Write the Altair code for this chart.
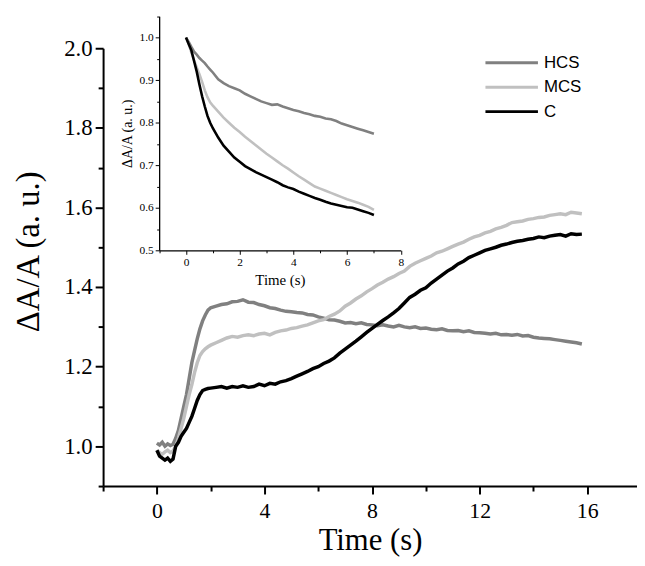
import altair as alt
import pandas as pd

SERIF = "Liberation Serif"
SANS = "Liberation Sans"

SERIES = ["HCS", "MCS", "C"]
COLORS = ["#808080", "#c0c0c0", "#000000"]

# ---- main panel ----
main_t = [
    0.0, 0.1, 0.2, 0.3, 0.4, 0.5, 0.6, 0.7, 0.8, 0.9,
    1.0, 1.1, 1.2, 1.3, 1.4, 1.5, 1.6, 1.7, 1.8, 1.9,
    2.0, 2.2, 2.4, 2.6, 2.8, 3.0, 3.2, 3.4, 3.6, 3.8,
    4.0, 4.2, 4.4, 4.6, 4.8, 5.0, 5.2, 5.4, 5.6, 5.8,
    6.0, 6.2, 6.4, 6.6, 6.8, 7.0, 7.2, 7.4, 7.6, 7.8,
    8.0, 8.2, 8.4, 8.6, 8.8, 9.0, 9.2, 9.4, 9.6, 9.8,
    10.0, 10.2, 10.4, 10.6, 10.8, 11.0, 11.2, 11.4, 11.6, 11.8,
    12.0, 12.2, 12.4, 12.6, 12.8, 13.0, 13.2, 13.4, 13.6, 13.8,
    14.0, 14.2, 14.4, 14.6, 14.8, 15.0, 15.2, 15.4, 15.6, 15.8,
]
main_hcs = [
    1.008, 1.003, 1.010, 1.000, 1.006, 1.002, 1.005, 1.020, 1.040, 1.070,
    1.100, 1.130, 1.170, 1.210, 1.240, 1.270, 1.295, 1.315, 1.330, 1.342,
    1.348, 1.352, 1.356, 1.358, 1.363, 1.364, 1.368, 1.362, 1.361, 1.356,
    1.353, 1.348, 1.346, 1.342, 1.339, 1.338, 1.336, 1.335, 1.331, 1.330,
    1.325, 1.322, 1.318, 1.317, 1.314, 1.310, 1.311, 1.308, 1.310, 1.306,
    1.305, 1.303, 1.305, 1.302, 1.300, 1.304, 1.300, 1.298, 1.300, 1.296,
    1.297, 1.294, 1.293, 1.295, 1.291, 1.290, 1.291, 1.288, 1.290, 1.286,
    1.285, 1.284, 1.282, 1.284, 1.280, 1.281, 1.279, 1.281, 1.277, 1.278,
    1.274, 1.272, 1.271, 1.270, 1.268, 1.266, 1.264, 1.262, 1.260, 1.257,
]
main_mcs = [
    0.990, 0.984, 0.980, 0.986, 0.990, 0.984, 0.988, 1.000, 1.020, 1.045,
    1.070, 1.100, 1.130, 1.155, 1.185, 1.210, 1.228, 1.238, 1.245, 1.250,
    1.254, 1.260, 1.266, 1.272, 1.276, 1.274, 1.278, 1.280, 1.278, 1.282,
    1.284, 1.280, 1.286, 1.290, 1.292, 1.296, 1.298, 1.302, 1.305, 1.310,
    1.315, 1.318, 1.326, 1.332, 1.340, 1.352, 1.360, 1.370, 1.378, 1.388,
    1.396, 1.405, 1.412, 1.420, 1.426, 1.434, 1.440, 1.452, 1.460, 1.466,
    1.472, 1.478, 1.486, 1.490, 1.496, 1.502, 1.508, 1.513, 1.520, 1.526,
    1.530, 1.536, 1.540, 1.546, 1.550, 1.555, 1.562, 1.564, 1.566, 1.570,
    1.572, 1.575, 1.576, 1.580, 1.582, 1.584, 1.582, 1.588, 1.586, 1.584,
]
main_c = [
    0.990, 0.975, 0.970, 0.965, 0.970, 0.962, 0.968, 1.000, 1.010, 1.025,
    1.035, 1.045, 1.060, 1.075, 1.095, 1.115, 1.130, 1.140, 1.143, 1.145,
    1.146, 1.148, 1.150, 1.146, 1.150, 1.148, 1.152, 1.148, 1.150, 1.156,
    1.152, 1.158, 1.156, 1.162, 1.165, 1.170, 1.176, 1.182, 1.188, 1.195,
    1.200, 1.208, 1.214, 1.222, 1.234, 1.244, 1.254, 1.264, 1.275, 1.286,
    1.296, 1.306, 1.316, 1.325, 1.335, 1.346, 1.360, 1.374, 1.382, 1.392,
    1.398, 1.410, 1.420, 1.430, 1.440, 1.448, 1.458, 1.465, 1.474, 1.480,
    1.486, 1.492, 1.496, 1.500, 1.505, 1.508, 1.512, 1.515, 1.517, 1.520,
    1.522, 1.526, 1.524, 1.528, 1.530, 1.532, 1.528, 1.534, 1.532, 1.533,
]

# ---- inset panel ----
inset_t = [
    0.0, 0.1, 0.2, 0.3, 0.4, 0.5, 0.6, 0.7, 0.8, 0.9,
    1.0, 1.2, 1.4, 1.6, 1.8, 2.0, 2.2, 2.4, 2.6, 2.8,
    3.0, 3.2, 3.4, 3.6, 3.8, 4.0, 4.2, 4.4, 4.6, 4.8,
    5.0, 5.2, 5.4, 5.6, 5.8, 6.0, 6.2, 6.4, 6.6, 6.8,
    7.0,
]
inset_hcs = [
    1.000, 0.990, 0.978, 0.967, 0.960, 0.952, 0.946, 0.940, 0.932, 0.925,
    0.918, 0.902, 0.893, 0.886, 0.881, 0.876, 0.868, 0.862, 0.856, 0.850,
    0.846, 0.842, 0.843, 0.838, 0.834, 0.830, 0.827, 0.823, 0.820, 0.816,
    0.814, 0.810, 0.808, 0.804, 0.798, 0.794, 0.790, 0.786, 0.782, 0.778,
    0.774,
]
inset_mcs = [
    1.000, 0.985, 0.965, 0.947, 0.930, 0.914, 0.896, 0.876, 0.860, 0.848,
    0.840, 0.826, 0.812, 0.800, 0.788, 0.778, 0.767, 0.757, 0.747, 0.737,
    0.727, 0.718, 0.709, 0.700, 0.692, 0.683, 0.674, 0.666, 0.658, 0.650,
    0.645, 0.640, 0.635, 0.630, 0.625, 0.620, 0.616, 0.612, 0.607, 0.602,
    0.595,
]
inset_c = [
    1.000, 0.985, 0.970, 0.945, 0.920, 0.890, 0.862, 0.838, 0.816, 0.800,
    0.787, 0.765, 0.746, 0.732, 0.718, 0.708, 0.698, 0.691, 0.684, 0.678,
    0.672, 0.666, 0.660, 0.653, 0.648, 0.644, 0.638, 0.633, 0.628, 0.623,
    0.619, 0.614, 0.610, 0.607, 0.604, 0.601, 0.600, 0.596, 0.592, 0.588,
    0.583,
]

main_x_ticks = [-2, 0, 2, 4, 6, 8, 10, 12, 14, 16]
main_y_ticks = [0.9, 1.0, 1.1, 1.2, 1.3, 1.4, 1.5, 1.6, 1.7, 1.8, 1.9, 2.0]
inset_x_ticks = [-1, 0, 1, 2, 3, 4, 5, 6, 7, 8]
inset_y_ticks = [0.5, 0.55, 0.6, 0.65, 0.7, 0.75, 0.8, 0.85, 0.9, 0.95, 1.0, 1.05]


def long_frame(t, series_vals):
    rows = []
    for name, vals in zip(SERIES, series_vals):
        for tt, vv in zip(t, vals):
            rows.append({"series": name, "t": tt, "v": vv})
    return pd.DataFrame(rows)


main_df = long_frame(main_t, [main_hcs, main_mcs, main_c])
inset_df = long_frame(inset_t, [inset_hcs, inset_mcs, inset_c])
legend_df = pd.DataFrame({"series": SERIES})

W, H = 539, 442
PAD_TOP = 38
color = alt.Color("series:N", scale=alt.Scale(domain=SERIES, range=COLORS), legend=None)

common_axis = dict(
    grid=False, domainColor="black", tickColor="black", labelColor="black",
    titleColor="black", labelFont=SERIF, titleFont=SERIF, titleFontWeight="normal",
    labelOverlap=False, labelFlush=False,
)

main = alt.Chart(main_df).mark_line(strokeWidth=3.5).encode(
    x=alt.X("t:Q", scale=alt.Scale(domain=[-2, 17.85], nice=False, zero=False),
            axis=alt.Axis(
                orient="bottom", title="Time (s)", values=main_x_ticks, format="d",
                labelExpr="datum.value % 4 == 0 ? datum.label : ''",
                tickSize={"condition": {"test": "datum.value % 4 == 0", "value": 8}, "value": 5},
                tickWidth=2, domainWidth=2, labelFontSize=22, labelPadding=7,
                titleFontSize=31, titleY=64, titleBaseline="alphabetic",
                **common_axis)),
    y=alt.Y("v:Q", scale=alt.Scale(domain=[0.9, 2.0], nice=False, zero=False),
            axis=alt.Axis(
                orient="left", title="ΔA/A (a. u.)", values=main_y_ticks,
                labelExpr="round(datum.value*10) % 2 == 0 ? format(datum.value, '.1f') : ''",
                tickSize={"condition": {"test": "round(datum.value*10) % 2 == 0", "value": 8}, "value": 5},
                tickWidth=2, domainWidth=2, labelFontSize=23, labelPadding=3,
                titleFontSize=33, titleAngle=270, titleX=-65, titleY=205,
                titleBaseline="alphabetic", titleAlign="center",
                **common_axis)),
    color=color,
)

# inset placement in plot coordinates
IX0, IX1 = 56.6, 300.5
IY0, IY1 = 250 - 8 - PAD_TOP, 13.8 - 8 - PAD_TOP

inset = alt.Chart(inset_df).mark_line(strokeWidth=2.6).encode(
    x=alt.X("t:Q", scale=alt.Scale(domain=[-1, 8], range=[IX0, IX1], nice=False, zero=False),
            axis=alt.Axis(
                orient="bottom", offset=IY0 - H, title="Time (s)", values=inset_x_ticks, format="d",
                labelExpr="datum.value % 2 == 0 ? datum.label : ''",
                tickSize={"condition": {"test": "datum.value % 2 == 0", "value": 4}, "value": 2.5},
                tickWidth=1, domainWidth=1.3, labelFontSize=11.5, labelPadding=2,
                titleFontSize=15, titleY=35, titleBaseline="alphabetic",
                **common_axis)),
    y=alt.Y("v:Q", scale=alt.Scale(domain=[0.5, 1.05], range=[IY0, IY1], nice=False, zero=False),
            axis=alt.Axis(
                orient="left", offset=-IX0, title="ΔA/A (a. u.)", values=inset_y_ticks,
                labelExpr="round(datum.value*20) % 2 == 0 ? format(datum.value, '.1f') : ''",
                tickSize={"condition": {"test": "round(datum.value*20) % 2 == 0", "value": 4}, "value": 2.5},
                tickWidth=1, domainWidth=1.3, labelFontSize=11.5, labelPadding=2,
                titleFontSize=14, titleAngle=270, titleX=-27.5, titleY=(IY0 + IY1) / 2,
                titleBaseline="alphabetic", titleAlign="center",
                **common_axis)),
    color=color,
)

leg_y = alt.Y("series:N", scale=alt.Scale(type="point", domain=SERIES,
                                          range=[60.7 - 8 - PAD_TOP, 110 - 8 - PAD_TOP], padding=0),
              axis=None)

legend_lines = alt.Chart(legend_df).mark_rule(strokeWidth=3).encode(
    x=alt.value(386), x2=alt.value(439), y=leg_y, color=color,
)
legend_text = alt.Chart(legend_df).mark_text(
    align="left", baseline="middle", font=SANS, fontSize=17, color="black"
).encode(x=alt.value(445), y=leg_y, text="series:N")

chart = alt.layer(main, inset, legend_lines, legend_text).resolve_scale(
    x="independent", y="independent"
).resolve_axis(
    x="independent", y="independent"
).properties(
    width=W, height=H,
    autosize=alt.AutoSizeParams(type="none"),
    padding={"left": 96, "top": PAD_TOP, "right": 0, "bottom": 70},
    background="white",
).configure_view(strokeOpacity=0)

chart.save("out.html", embed_options={"renderer": "svg", "actions": False})
